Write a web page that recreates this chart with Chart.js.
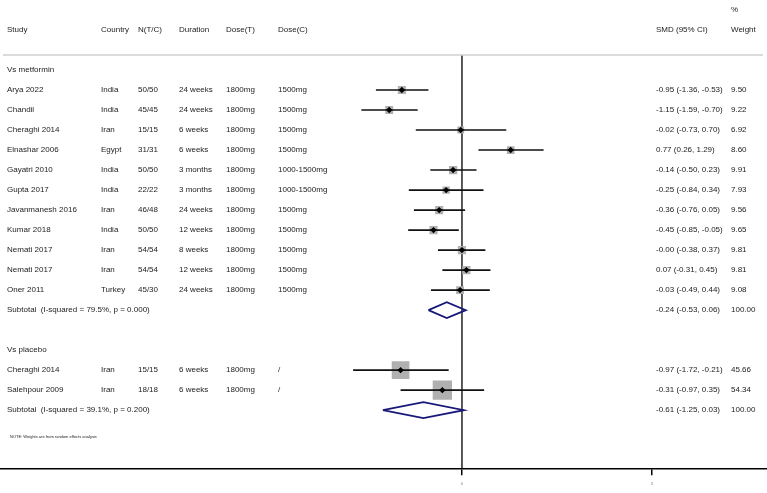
<!DOCTYPE html>
<html lang="en">
<head>
  <meta charset="utf-8"/>
  <title>Forest plot - SMD (95% CI)</title>
  <script src="https://cdn.jsdelivr.net/npm/chart.js"></script>
  <style>
    body { margin: 0; background: #fff; }
    #wrap { width: 767px; height: 493px; }
  </style>
</head>
<body>
<div id="wrap"><canvas id="forest" width="767" height="493"></canvas></div>

<script>
  // study level data
  const studies   = ['Arya 2022', 'Chandil', 'Cheraghi 2014', 'Elnashar 2006', 'Gayatri 2010', 'Gupta 2017',
                     'Javanmanesh 2016', 'Kumar 2018', 'Nemati 2017', 'Nemati 2017', 'Oner 2011',
                     'Cheraghi 2014', 'Salehpour 2009'];
  const group     = [0, 0, 0, 0, 0, 0, 0, 0, 0, 0, 0, 1, 1];
  const countries = ['India', 'India', 'Iran', 'Egypt', 'India', 'India', 'Iran', 'India', 'Iran', 'Iran', 'Turkey', 'Iran', 'Iran'];
  const nTC       = ['50/50', '45/45', '15/15', '31/31', '50/50', '22/22', '46/48', '50/50', '54/54', '54/54', '45/30', '15/15', '18/18'];
  const duration  = ['24 weeks', '24 weeks', '6 weeks', '6 weeks', '3 months', '3 months', '24 weeks', '12 weeks',
                     '8 weeks', '12 weeks', '24 weeks', '6 weeks', '6 weeks'];
  const doseT     = ['1800mg', '1800mg', '1800mg', '1800mg', '1800mg', '1800mg', '1800mg', '1800mg', '1800mg', '1800mg', '1800mg', '1800mg', '1800mg'];
  const doseC     = ['1500mg', '1500mg', '1500mg', '1500mg', '1000-1500mg', '1000-1500mg', '1500mg', '1500mg',
                     '1500mg', '1500mg', '1500mg', '/', '/'];
  const smd       = [-0.95, -1.15, -0.02, 0.77, -0.14, -0.25, -0.36, -0.45, -0.00, 0.07, -0.03, -0.97, -0.31];
  const ciLow     = [-1.36, -1.59, -0.73, 0.26, -0.50, -0.84, -0.76, -0.85, -0.38, -0.31, -0.49, -1.72, -0.97];
  const ciHigh    = [-0.53, -0.70, 0.70, 1.29, 0.23, 0.34, 0.05, -0.05, 0.37, 0.45, 0.44, -0.21, 0.35];
  const weight    = [9.50, 9.22, 6.92, 8.60, 9.91, 7.93, 9.56, 9.65, 9.81, 9.81, 9.08, 45.66, 54.34];

  // subgroup summaries
  const groups  = ['Vs metformin', 'Vs placebo'];
  const subSmd  = [-0.24, -0.61];
  const subLow  = [-0.53, -1.25];
  const subHigh = [0.06, 0.03];
  const subI2   = [79.5, 39.1];
  const subP    = [0.000, 0.200];

  const xTicks = [0, 3];

  // row layout (y value = row number, 20px apart)
  const rowOf = [];
  const groupRow = [];
  const subRow = [];
  let r = -1;
  groups.forEach((g, gi) => {
    groupRow.push(r);
    r += 1;
    studies.forEach((s, i) => {
      if (group[i] === gi) { rowOf[i] = r; r += 1; }
    });
    subRow.push(r);
    r += 2;
  });
  const Y_MIN = -4.5, Y_MAX = 18.95;

  function fmt(v) {
    return (Object.is(v, -0) || (v < 0)) ? '-' + Math.abs(v).toFixed(2) : v.toFixed(2);
  }

  const datasets = [];

  // line of no effect
  datasets.push({
    data: [{ x: 0, y: -1.75 }, { x: 0, y: Y_MAX }],
    showLine: true, borderColor: '#000', borderWidth: 1.3, pointRadius: 0, order: 6
  });

  // weight boxes
  datasets.push({
    data: studies.map((s, i) => ({ x: smd[i], y: rowOf[i] })),
    pointStyle: 'rect',
    pointRadius: ctx => 1.85 * Math.sqrt(weight[ctx.dataIndex]),
    backgroundColor: '#b0b0b0', borderWidth: 0, order: 5
  });

  // confidence intervals
  studies.forEach((s, i) => {
    datasets.push({
      data: [{ x: ciLow[i], y: rowOf[i] }, { x: ciHigh[i], y: rowOf[i] }],
      showLine: true, borderColor: '#111', borderWidth: 1.6, pointRadius: 0, order: 4
    });
  });

  // point estimates
  datasets.push({
    data: studies.map((s, i) => ({ x: smd[i], y: rowOf[i] })),
    pointStyle: 'rectRot', pointRadius: 3.2,
    backgroundColor: '#000', borderColor: '#000', borderWidth: 0, order: 2
  });

  // subtotal diamonds
  groups.forEach((g, gi) => {
    const y = subRow[gi];
    datasets.push({
      data: [
        { x: subLow[gi], y: y }, { x: subSmd[gi], y: y - 0.4 }, { x: subHigh[gi], y: y },
        { x: subSmd[gi], y: y + 0.4 }, { x: subLow[gi], y: y }
      ],
      showLine: true, borderColor: '#18187a', borderWidth: 1.8, pointRadius: 0,
      fill: false, tension: 0, order: 1
    });
  });

  const textPlugin = {
    id: 'forestText',
    afterDraw(chart) {
      const c = chart.ctx;
      const ys = chart.scales.y;
      const Y = v => ys.getPixelForValue(v);
      c.save();
      c.textBaseline = 'middle';
      c.textAlign = 'left';

      // header separator
      c.strokeStyle = '#cfcfcf';
      c.lineWidth = 1.5;
      c.beginPath();
      c.moveTo(3, Y(-1.75));
      c.lineTo(763, Y(-1.75));
      c.stroke();

      c.fillStyle = '#222';
      c.font = '8px "Liberation Sans", Arial, sans-serif';
      const cols = [7, 101, 138, 179, 226, 278];
      const SMD_X = 656, W_X = 731;

      // header
      ['Study', 'Country', 'N(T/C)', 'Duration', 'Dose(T)', 'Dose(C)'].forEach((h, k) => c.fillText(h, cols[k], Y(-3)));
      c.fillText('SMD (95% CI)', SMD_X, Y(-3));
      c.fillText('%', W_X, Y(-4));
      c.fillText('Weight', W_X, Y(-3));

      groups.forEach((g, gi) => {
        c.fillText(g, cols[0], Y(groupRow[gi]));
        const ySub = Y(subRow[gi]);
        c.fillText('Subtotal  (I-squared = ' + subI2[gi].toFixed(1) + '%, p = ' + subP[gi].toFixed(3) + ')', cols[0], ySub);
        c.fillText(fmt(subSmd[gi]) + ' (' + fmt(subLow[gi]) + ', ' + fmt(subHigh[gi]) + ')', SMD_X, ySub);
        c.fillText('100.00', W_X, ySub);
      });

      studies.forEach((s, i) => {
        const y = Y(rowOf[i]);
        [s, countries[i], nTC[i], duration[i], doseT[i], doseC[i]].forEach((t, k) => c.fillText(t, cols[k], y));
        c.fillText(fmt(smd[i]) + ' (' + fmt(ciLow[i]) + ', ' + fmt(ciHigh[i]) + ')', SMD_X, y);
        c.fillText(weight[i].toFixed(2), W_X, y);
      });

      c.font = '4px "Liberation Sans", Arial, sans-serif';
      c.fillText('NOTE: Weights are from random effects analysis', 10, Y(17.35));
      c.restore();
    }
  };

  new Chart(document.getElementById('forest'), {
    type: 'scatter',
    data: { datasets },
    options: {
      responsive: false,
      animation: false,
      layout: { autoPadding: false, padding: { top: 0, left: 0, right: 0, bottom: 1 } },
      plugins: { legend: { display: false }, tooltip: { enabled: false } },
      scales: {
        x: {
          type: 'linear', min: -7.30, max: 4.82,
          afterBuildTicks: scale => { scale.ticks = xTicks.map(v => ({ value: v })); },
          grid: { drawOnChartArea: false, drawTicks: true, tickLength: 6, color: '#000', lineWidth: 1.5 },
          border: { display: true, color: '#000', width: 1.5 },
          ticks: { font: { size: 4 }, color: '#777', padding: 6 }
        },
        y: { type: 'linear', reverse: true, min: Y_MIN, max: Y_MAX, display: false }
      }
    },
    plugins: [textPlugin]
  });
</script>
</body>
</html>
